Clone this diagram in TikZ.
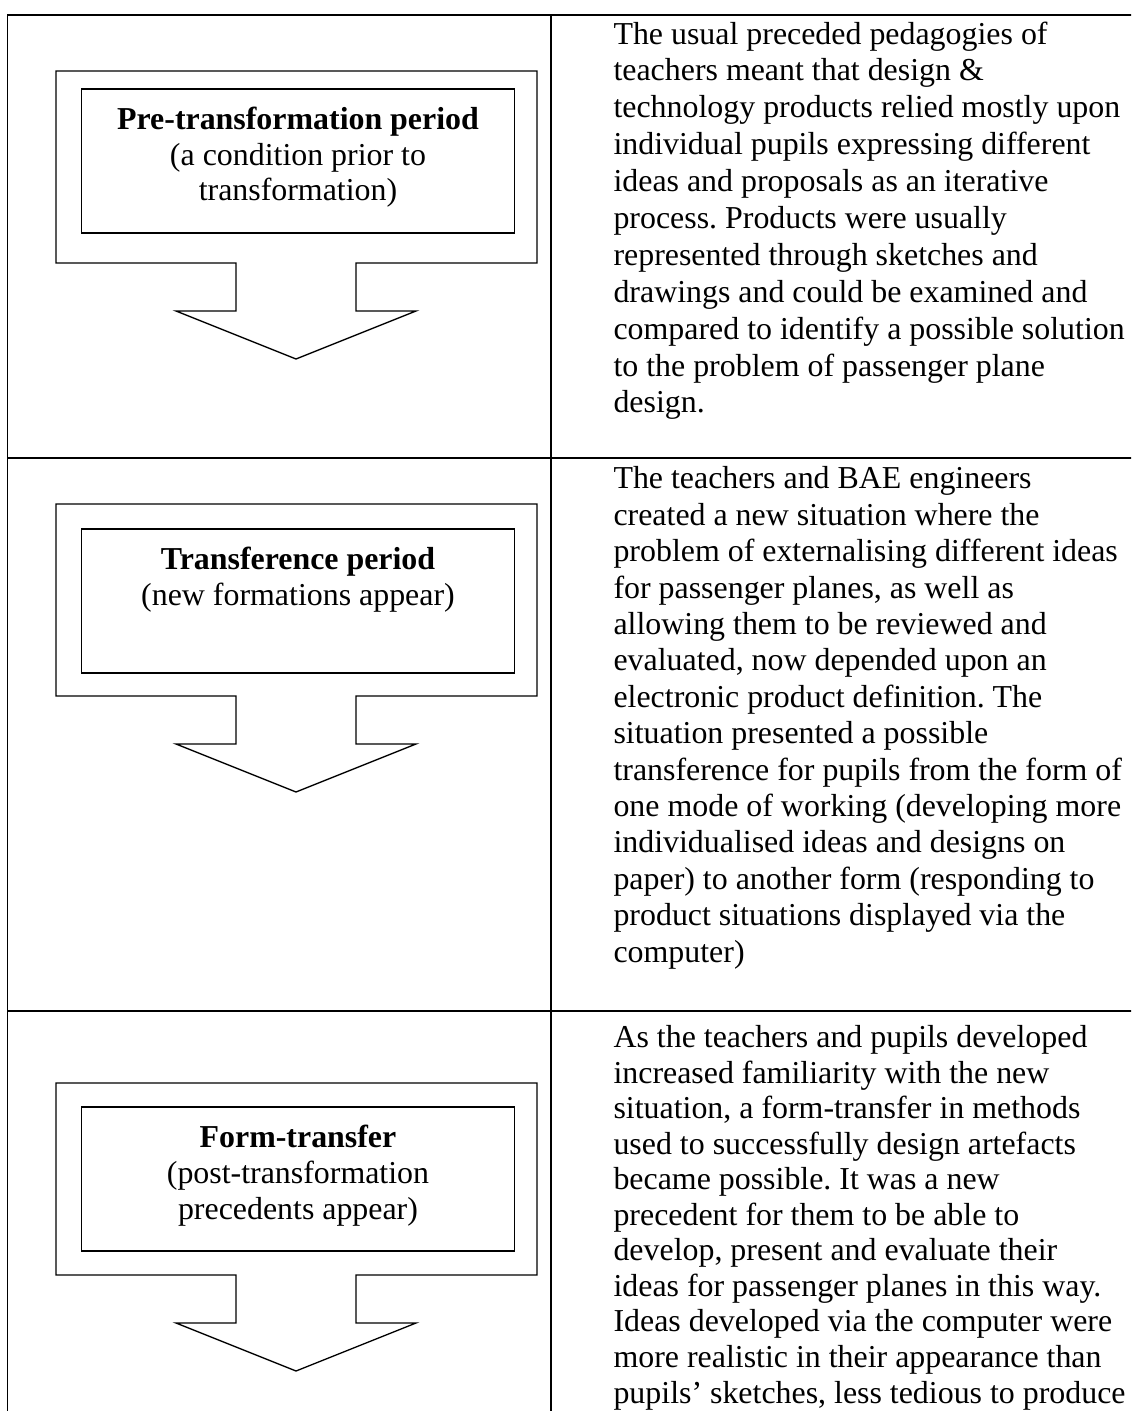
\documentclass[tikz,border=0pt]{standalone}
\usepackage{fontspec}
\setmainfont{Liberation Serif}
\frenchspacing
\tikzset{
  tablerule/.style={line width=0.75pt},
  arrowline/.style={line width=0.5pt, line join=miter},
  bodytext/.style={align=left, anchor=base west, inner sep=0pt},
  boxtext/.style={font=\fontsize{12}{13.54}\selectfont, align=center, anchor=base, inner sep=0pt},
}
% #1 name, #2 outer top, #3 inner top offset, #4 number of lines minus one, #5 text
\newcommand\arrowblock[5]{%
  \draw[arrowline] (56,#2) -- (537,#2) -- (537,{#2+192}) -- (356,{#2+192})
    -- (356,{#2+240}) -- (416,{#2+240}) -- (296,{#2+288}) -- (176,{#2+240})
    -- (236,{#2+240}) -- (236,{#2+192}) -- (56,{#2+192}) -- cycle;
  \draw[arrowline] (81.5,{#2+#3}) rectangle (514.5,{#2+#3+144});
  \node[boxtext] (#1) at (298,{#2+#3+40+36*#4}) {#5};
}
\begin{document}
\begin{tikzpicture}[x=0.3762pt, y=-0.3762pt]
\useasboundingbox (0,0) rectangle (1131,1411);
\clip (0,0) rectangle (1131,1411);
% table
\draw[tablerule] (1200,15) -- (7.5,15) -- (7.5,1500);
\draw[tablerule] (551,15) -- (551,1500);
\draw[tablerule] (7.5,458) -- (1200,458);
\draw[tablerule] (7.5,1011) -- (1200,1011);
% left column
\arrowblock{b1}{71}{18}{2}{\textbf{Pre-transformation period}\\(a condition prior to\\transformation)}
\arrowblock{b2}{504}{25}{1}{\textbf{Transference period}\\(new formations appear)}
\arrowblock{b3}{1083}{24}{2}{\textbf{Form-transfer}\\(post-transformation\\precedents appear)}
% right column (anchored at the baseline of the last line)
\node[bodytext, font=\fontsize{12}{13.88}\selectfont] (t1) at (613,413) {The usual preceded pedagogies of\\
teachers meant that design \&\\
technology products relied mostly upon\\
individual pupils expressing different\\
ideas and proposals as an iterative\\
process. Products were usually\\
represented through sketches and\\
drawings and could be examined and\\
compared to identify a possible solution\\
to the problem of passenger plane\\
design.};
\node[bodytext, font=\fontsize{12}{13.69}\selectfont] (t2) at (613,962) {The teachers and BAE engineers\\
created a new situation where the\\
problem of externalising different ideas\\
for passenger planes, as well as\\
allowing them to be reviewed and\\
evaluated, now depended upon an\\
electronic product definition. The\\
situation presented a possible\\
transference for pupils from the form of\\
one mode of working (developing more\\
individualised ideas and designs on\\
paper) to another form (responding to\\
product situations displayed via the\\
computer)};
\node[bodytext, font=\fontsize{12}{13.36}\selectfont] (t3) at (613,1403) {As the teachers and pupils developed\\
increased familiarity with the new\\
situation, a form-transfer in methods\\
used to successfully design artefacts\\
became possible. It was a new\\
precedent for them to be able to\\
develop, present and evaluate their\\
ideas for passenger planes in this way.\\
Ideas developed via the computer were\\
more realistic in their appearance than\\
pupils’ sketches, less tedious to produce};
\end{tikzpicture}
\end{document}
